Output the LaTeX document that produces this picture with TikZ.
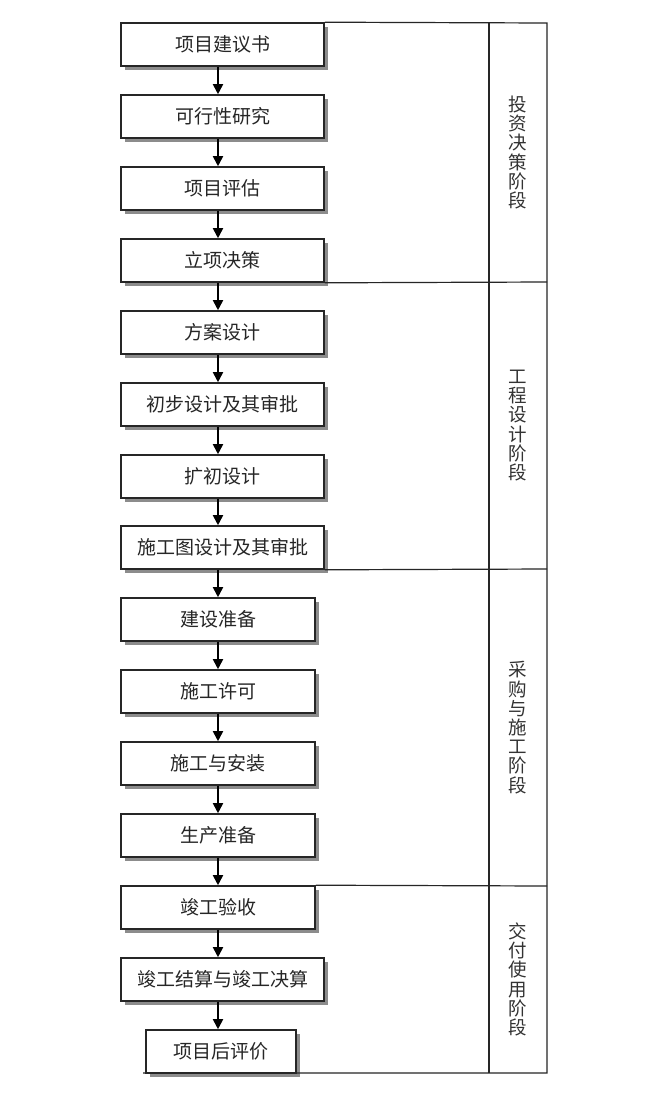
\documentclass[tikz,border=0pt]{standalone}
\usepackage{fontspec}
\newfontfamily\cjk{Noto Sans CJK SC}
\usetikzlibrary{arrows.meta,shadows}
\tikzset{
  stagebox/.style={draw=black!85, line width=1.6pt, fill=white, minimum height=43pt,
    inner sep=0pt, text=black!85, font=\cjk\fontsize{19}{20}\selectfont,
    drop shadow={shadow xshift=3.5pt, shadow yshift=-3.5pt, fill=black!45, opacity=1}},
  wideb/.style={stagebox, minimum width=203pt},
  midb/.style={stagebox, minimum width=194pt},
  smallb/.style={stagebox, minimum width=150pt},
  flow/.style={line width=1.8pt, draw=black, -{Triangle[width=10pt,length=10pt]}},
  frameline/.style={line width=1.2pt, draw=black!85},
  phase/.style={align=center, text=black!80, inner sep=0pt, font=\cjk\fontsize{18.5}{19.2}\selectfont}
}
\begin{document}
\begin{tikzpicture}[x=1pt,y=-1pt]
\useasboundingbox (0,0) rectangle (660,1098);
\fill[white] (0,0) rectangle (660,1098);
% frame
\coordinate (ax) at (218,0);
\coordinate (tr) at (547,23);
\coordinate (br) at (547,1073);
\coordinate (bl) at (143,1073);
\coordinate (dt) at (489,23);
\coordinate (db) at (489,1073);
\coordinate (r1) at (547,282);
\coordinate (r2) at (547,569);
\coordinate (r3) at (547,886);
% boxes
\node[wideb] (b1) at (222.5,44.5) {项目建议书};
\node[wideb] (b2) at (222.5,116.5) {可行性研究};
\node[wideb] (b3) at (222.5,188.5) {项目评估};
\node[wideb] (b4) at (222.5,260.5) {立项决策};
\node[wideb] (b5) at (222.5,332.5) {方案设计};
\node[wideb] (b6) at (222.5,404.5) {初步设计及其审批};
\node[wideb] (b7) at (222.5,476.5) {扩初设计};
\node[wideb] (b8) at (222.5,547.5) {施工图设计及其审批};
\node[midb] (b9) at (218,619.5) {建设准备};
\node[midb] (b10) at (218,691.5) {施工许可};
\node[midb] (b11) at (218,763.5) {施工与安装};
\node[midb] (b12) at (218,835.5) {生产准备};
\node[midb] (b13) at (218,907.5) {竣工验收};
\node[wideb] (b14) at (222.5,979.5) {竣工结算与竣工决算};
\node[smallb] (b15) at (221,1051.5) {项目后评价};
% frame lines
\draw[frameline] (b1.north east) -- (tr) -- (br) -- (bl);
\draw[frameline] (dt) -- (db);
\draw[frameline] (b4.south east) -- (r1);
\draw[frameline] (b8.south east) -- (r2);
\draw[frameline] (b13.north east) -- (r3);
% arrows
\foreach \a/\b in {b1/b2,b2/b3,b3/b4,b4/b5,b5/b6,b6/b7,b7/b8,b8/b9,b9/b10,b10/b11,b11/b12,b12/b13,b13/b14,b14/b15}
  \draw[flow] (\a.south -| ax) -- (\b.north -| ax);
% phase labels
\node[phase] (p1) at (518,152.5) {投\\资\\决\\策\\阶\\段};
\node[phase] (p2) at (518,425.5) {工\\程\\设\\计\\阶\\段};
\node[phase] (p3) at (518,727.5) {采\\购\\与\\施\\工\\阶\\段};
\node[phase] (p4) at (518,979.5) {交\\付\\使\\用\\阶\\段};
\end{tikzpicture}
\end{document}
